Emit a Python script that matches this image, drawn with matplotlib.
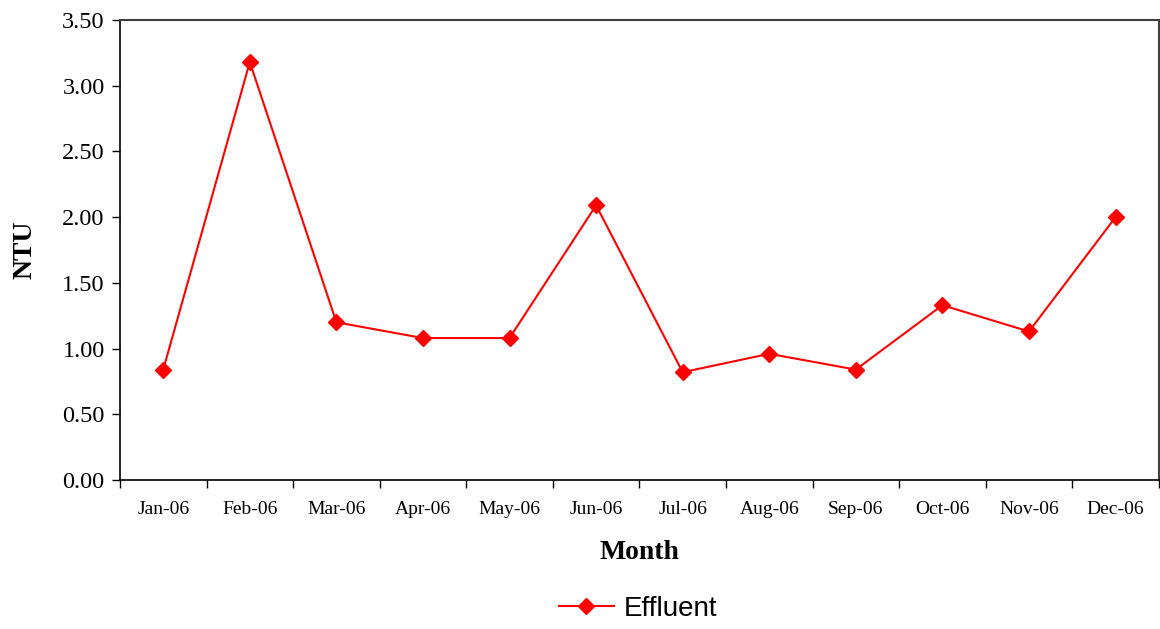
import matplotlib.pyplot as plt
import numpy as np

months = ['Jan-06', 'Feb-06', 'Mar-06', 'Apr-06', 'May-06', 'Jun-06',
          'Jul-06', 'Aug-06', 'Sep-06', 'Oct-06', 'Nov-06', 'Dec-06']
effluent = [0.84, 3.18, 1.20, 1.08, 1.08, 2.09, 0.82, 0.96, 0.84, 1.33, 1.13, 2.00]

plt.rcParams['font.family'] = ['Liberation Serif', 'DejaVu Serif']

fig = plt.figure(figsize=(11.6, 6.29), dpi=100)
ax = fig.add_axes([0.1034, 0.2369, 0.8956, 0.7313])

x = np.arange(len(months))
line, = ax.plot(x, effluent, color='#ff0000', lw=1.5, marker='D', ms=8,
                markeredgecolor='#ff0000', markerfacecolor='#ff0000')

ax.set_xlim(-0.5, len(months) - 0.5)
ax.set_ylim(0, 3.5)
ax.set_yticks(np.arange(0, 3.51, 0.5))
ax.set_yticklabels([f'{v:.2f}' for v in np.arange(0, 3.51, 0.5)], fontsize=17.5)

# category labels centred, tick marks between categories
ax.set_xticks(np.arange(-0.5, len(months), 1))
ax.set_xticklabels([])
ax.set_xticks(x, minor=True)
ax.set_xticklabels(months, minor=True, fontsize=14)
for lbl in ax.get_xticklabels(minor=True):
    lbl.set_fontstretch('expanded')
ax.tick_params(axis='x', which='minor', length=0, pad=15)
ax.tick_params(axis='x', which='major', length=6, width=1, direction='out')
ax.tick_params(axis='y', length=6, width=1, direction='out', pad=5)

for s in ['left', 'bottom']:
    ax.spines[s].set_color('black')
    ax.spines[s].set_linewidth(1.2)
for s in ['top', 'right']:
    ax.spines[s].set_color('#404040')
    ax.spines[s].set_linewidth(1.5)

ax.set_xlabel('Month', fontsize=20, fontweight='bold', labelpad=16)
ax.set_ylabel('NTU', fontsize=20, fontweight='bold', labelpad=18)

fig.legend([line], ['Effluent'], loc='center', bbox_to_anchor=(0.55, 0.032),
           frameon=False, prop={'family': 'Liberation Sans', 'size': 20},
           handlelength=2.0, handletextpad=0.35)

fig.savefig('out.png', dpi=100)
